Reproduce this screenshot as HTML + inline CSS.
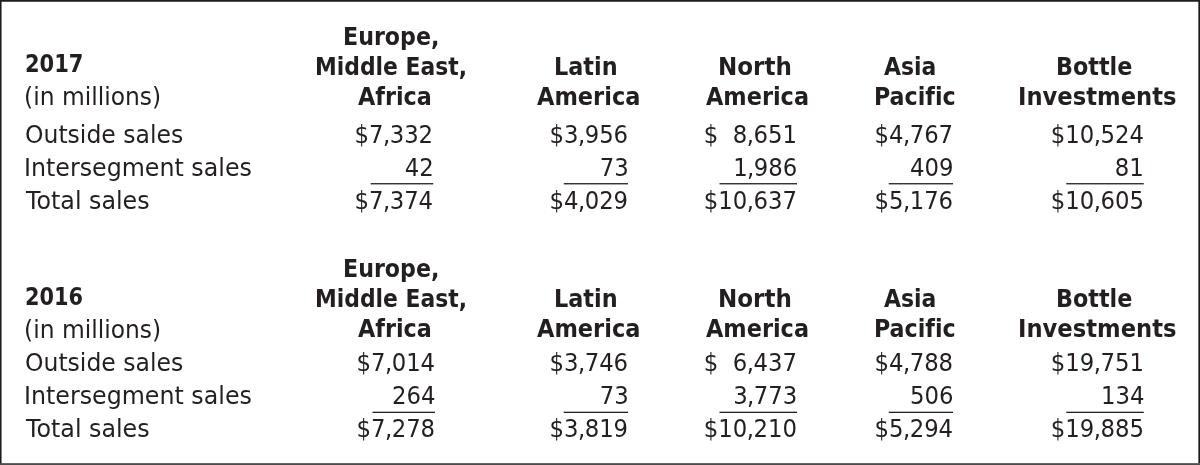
<!DOCTYPE html>
<html lang="en"><head><meta charset="utf-8"><title>Segment sales 2017 and 2016</title>
<style>
html,body{margin:0;padding:0;background:#fff}
#f{position:relative;width:1200px;height:465px;overflow:hidden;background:#fff;color:#231f20;line-height:30px}
#ov{position:absolute;left:0;top:0;display:block}
.t{position:absolute;white-space:nowrap;height:30px;transform-origin:0 0;font-variant-ligatures:none;font-kerning:normal}
.b{font-family:'DejaVu Sans Condensed','DejaVu Sans','Liberation Sans',sans-serif;font-stretch:condensed;font-size:24.5px;font-weight:bold}
.r{font-family:'DejaVu Sans','Liberation Sans',sans-serif;font-size:24px;font-weight:normal}
.n{font-family:'DejaVu Sans Condensed','DejaVu Sans','Liberation Sans',sans-serif;font-stretch:condensed;font-size:24.2px;font-weight:normal;transform:scaleX(1.0466);transform-origin:100% 0;text-align:right}
.c{margin:0 -0.53px}
.g{display:inline-block;width:13.85px}
</style></head>
<body><div id="f">
<div class="t r" style="left:24.45px;top:82.00px;transform:scaleX(0.9748)">(in millions)</div>
<div class="t r" style="left:24.78px;top:120.00px;transform:scaleX(0.9796)">Outside sales</div>
<div class="t r" style="left:23.77px;top:153.00px;transform:scaleX(0.9890)">Intersegment sales</div>
<div class="t r" style="left:26.25px;top:186.00px;transform:scaleX(0.9899)">Total sales</div>
<div class="t r" style="left:24.45px;top:315.00px;transform:scaleX(0.9748)">(in millions)</div>
<div class="t r" style="left:24.78px;top:348.00px;transform:scaleX(0.9796)">Outside sales</div>
<div class="t r" style="left:23.77px;top:381.00px;transform:scaleX(0.9890)">Intersegment sales</div>
<div class="t r" style="left:26.25px;top:414.00px;transform:scaleX(0.9899)">Total sales</div>
<div class="t b" style="left:25.03px;top:49.00px;transform:scaleX(0.9534)">2017</div>
<div class="t b" style="left:343.29px;top:22.00px;transform:scaleX(1.0049)">Europe,</div>
<div class="t b" style="left:315.42px;top:52.00px;transform:scaleX(0.9919)">Middle East,</div>
<div class="t b" style="left:357.75px;top:82.00px;transform:scaleX(1.0105)">Africa</div>
<div class="t b" style="left:553.77px;top:52.00px;transform:scaleX(1.0144)">Latin</div>
<div class="t b" style="left:537.24px;top:82.00px;transform:scaleX(1.0201)">America</div>
<div class="t b" style="left:717.56px;top:52.00px;transform:scaleX(1.0448)">North</div>
<div class="t b" style="left:706.00px;top:82.00px;transform:scaleX(1.0166)">America</div>
<div class="t b" style="left:884.35px;top:52.00px;transform:scaleX(0.9951)">Asia</div>
<div class="t b" style="left:873.89px;top:82.00px;transform:scaleX(1.0064)">Pacific</div>
<div class="t b" style="left:1055.98px;top:52.00px;transform:scaleX(1.0103)">Bottle</div>
<div class="t b" style="left:1017.89px;top:82.00px;transform:scaleX(1.0281)">Investments</div>
<div class="t b" style="left:25.05px;top:282.00px;transform:scaleX(0.9453)">2016</div>
<div class="t b" style="left:343.29px;top:254.00px;transform:scaleX(1.0049)">Europe,</div>
<div class="t b" style="left:315.42px;top:284.00px;transform:scaleX(0.9919)">Middle East,</div>
<div class="t b" style="left:357.75px;top:314.00px;transform:scaleX(1.0105)">Africa</div>
<div class="t b" style="left:553.77px;top:284.00px;transform:scaleX(1.0144)">Latin</div>
<div class="t b" style="left:537.24px;top:314.00px;transform:scaleX(1.0201)">America</div>
<div class="t b" style="left:717.56px;top:284.00px;transform:scaleX(1.0448)">North</div>
<div class="t b" style="left:706.00px;top:314.00px;transform:scaleX(1.0166)">America</div>
<div class="t b" style="left:884.35px;top:284.00px;transform:scaleX(0.9951)">Asia</div>
<div class="t b" style="left:873.89px;top:314.00px;transform:scaleX(1.0064)">Pacific</div>
<div class="t b" style="left:1055.98px;top:284.00px;transform:scaleX(1.0103)">Bottle</div>
<div class="t b" style="left:1017.89px;top:314.00px;transform:scaleX(1.0281)">Investments</div>
<div class="t n" style="right:766.45px;top:120.00px">$7<span class="c">,</span>332</div>
<div class="t n" style="right:766.45px;top:153.00px">42</div>
<div class="t n" style="right:766.45px;top:186.00px">$7<span class="c">,</span>374</div>
<div class="t n" style="right:571.70px;top:120.00px">$3<span class="c">,</span>956</div>
<div class="t n" style="right:571.70px;top:153.00px">73</div>
<div class="t n" style="right:571.70px;top:186.00px">$4<span class="c">,</span>029</div>
<div class="t n" style="right:402.70px;top:120.00px">$<span class="g"></span>8<span class="c">,</span>651</div>
<div class="t n" style="right:402.70px;top:153.00px">1<span class="c">,</span>986</div>
<div class="t n" style="right:402.70px;top:186.00px">$10<span class="c">,</span>637</div>
<div class="t n" style="right:246.70px;top:120.00px">$4<span class="c">,</span>767</div>
<div class="t n" style="right:246.70px;top:153.00px">409</div>
<div class="t n" style="right:246.70px;top:186.00px">$5<span class="c">,</span>176</div>
<div class="t n" style="right:55.95px;top:120.00px">$10<span class="c">,</span>524</div>
<div class="t n" style="right:55.95px;top:153.00px">81</div>
<div class="t n" style="right:55.95px;top:186.00px">$10<span class="c">,</span>605</div>
<div class="t n" style="right:764.70px;top:348.00px">$7<span class="c">,</span>014</div>
<div class="t n" style="right:764.70px;top:381.00px">264</div>
<div class="t n" style="right:764.70px;top:414.00px">$7<span class="c">,</span>278</div>
<div class="t n" style="right:571.70px;top:348.00px">$3<span class="c">,</span>746</div>
<div class="t n" style="right:571.70px;top:381.00px">73</div>
<div class="t n" style="right:571.70px;top:414.00px">$3<span class="c">,</span>819</div>
<div class="t n" style="right:402.70px;top:348.00px">$<span class="g"></span>6<span class="c">,</span>437</div>
<div class="t n" style="right:402.70px;top:381.00px">3<span class="c">,</span>773</div>
<div class="t n" style="right:402.70px;top:414.00px">$10<span class="c">,</span>210</div>
<div class="t n" style="right:246.70px;top:348.00px">$4<span class="c">,</span>788</div>
<div class="t n" style="right:246.70px;top:381.00px">506</div>
<div class="t n" style="right:246.70px;top:414.00px">$5<span class="c">,</span>294</div>
<div class="t n" style="right:55.95px;top:348.00px">$19<span class="c">,</span>751</div>
<div class="t n" style="right:55.95px;top:381.00px">134</div>
<div class="t n" style="right:55.95px;top:414.00px">$19<span class="c">,</span>885</div>
<svg id="ov" width="1200" height="465" viewBox="0 0 1200 465" fill="#231f20">
<g fill="#1c1c1c"><rect x="0" y="0" width="1200" height="1.75"/><rect x="0" y="0" width="1.55" height="465"/><rect x="1198.35" y="0" width="1.65" height="463.2"/></g>
<rect x="0" y="463.15" width="1200" height="1.85" fill="#4c4c4c"/>
<rect x="370.75" y="183.10" width="62.50" height="1.3"/>
<rect x="563.75" y="183.10" width="64.25" height="1.3"/>
<rect x="719.50" y="183.10" width="77.50" height="1.3"/>
<rect x="888.75" y="183.10" width="64.25" height="1.3"/>
<rect x="1066.25" y="183.10" width="77.50" height="1.3"/>
<rect x="372.50" y="411.70" width="62.50" height="1.3"/>
<rect x="563.75" y="411.70" width="64.25" height="1.3"/>
<rect x="719.50" y="411.70" width="77.50" height="1.3"/>
<rect x="888.75" y="411.70" width="64.25" height="1.3"/>
<rect x="1066.25" y="411.70" width="77.50" height="1.3"/>
</svg>
</div></body></html>
